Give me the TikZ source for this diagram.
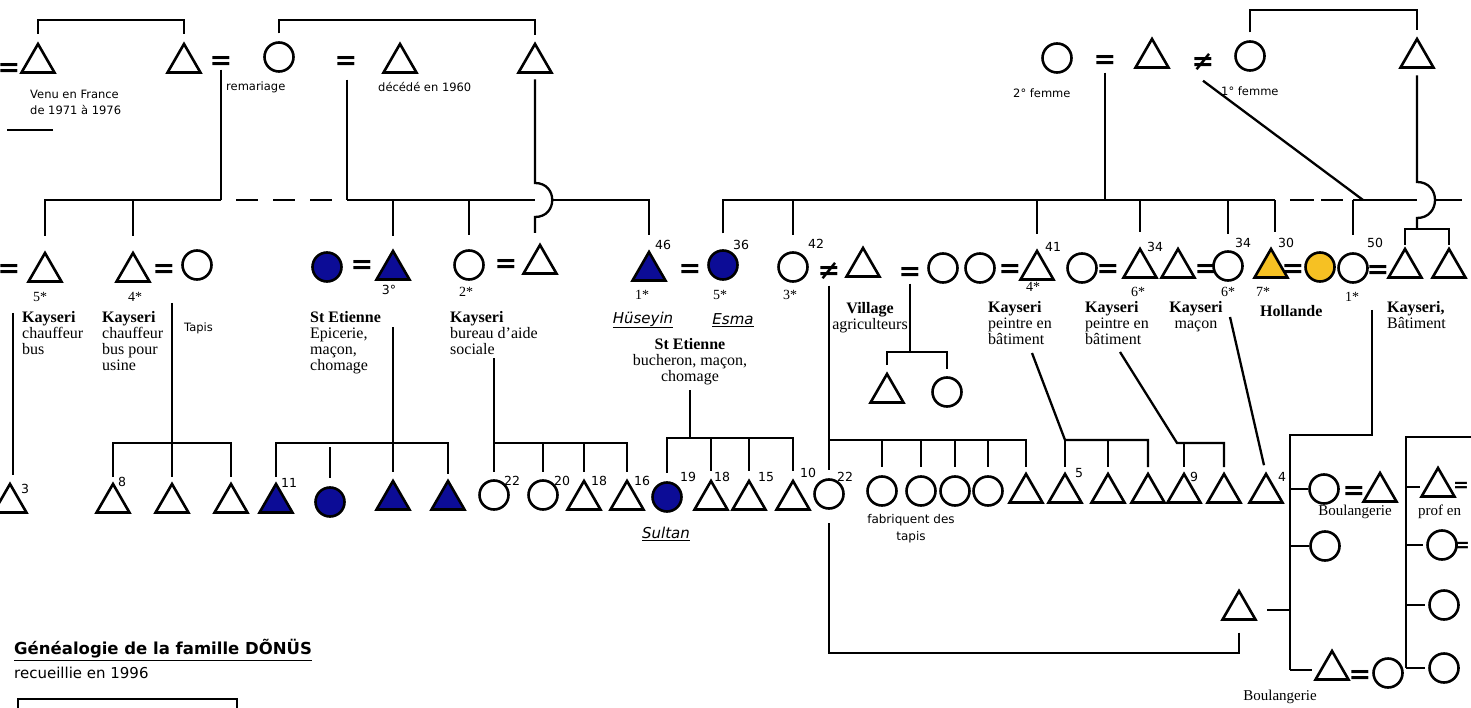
\documentclass[tikz,border=0pt]{standalone}
\usepackage{fontspec}
\setmainfont{Liberation Serif}
\setsansfont{DejaVu Sans}
\usetikzlibrary{shapes.geometric}
\definecolor{bleuD}{RGB}{12,12,150}
\definecolor{jauneD}{RGB}{246,193,35}
\begin{document}
\begin{tikzpicture}[x=1pt, y=-1pt,
  lien/.style={line width=2.3pt},
  paren/.style={lien, shorten <=#1, shorten >=#1}, paren/.default=7pt,
  desc/.style={lien, shorten >=#1}, desc/.default=9pt,
  homme/.style={draw, line width=2.6pt, regular polygon, regular polygon sides=3,
    minimum size=38pt, inner sep=0pt, outer sep=0pt},
  femme/.style={draw, line width=2.6pt, circle, minimum size=29pt, inner sep=0pt, outer sep=0pt},
  bleu/.style={fill=bleuD},
  jaune/.style={fill=jauneD},
  egal/.style={font=\sffamily\bfseries\fontsize{27}{27}\selectfont, inner sep=0pt, anchor=base, yshift=-9.4pt},
  petitegal/.style={egal, font=\sffamily\bfseries\fontsize{19}{19}\selectfont, yshift=3pt},
  petit/.style={font=\sffamily\fontsize{11.5}{16}\selectfont, inner sep=0pt, align=left},
  lieu/.style={font=\fontsize{16}{16}\selectfont, inner sep=0pt, align=left},
  rang/.style={font=\fontsize{14}{14}\selectfont, inner sep=0pt},
  age/.style={font=\sffamily\fontsize{12.5}{13}\selectfont, inner sep=0pt},
  prenom/.style={font=\sffamily\itshape\fontsize{15}{15}\selectfont, inner sep=0pt}]
  \useasboundingbox (0,0) rectangle (1471,708);
  \clip (0,0) rectangle (1471,708);

  % la generation du haut
  \node[egal] (m0) at (9,67) {=};
  \node[homme] (gp1) at (38,63) {};
  \node[homme] (gp2) at (184,63) {};
  \node[egal] (m1) at (221,60) {=};
  \node[femme] (gm1) at (279,57) {};
  \node[egal] (m2) at (346,60) {=};
  \node[homme] (gp3) at (400,63) {};
  \node[homme] (gp4) at (535,63) {};
  \node[femme] (gm2) at (1057,58) {};
  \node[egal] (m3) at (1105,59) {=};
  \node[homme] (gp5) at (1152,58) {};
  \node[egal] (d1) at (1203,61) {≠};
  \node[femme] (gm3) at (1250,56) {};
  \node[homme] (gp6) at (1417,58) {};
  \node[petit, anchor=north west] (venu) at (30,90) {Venu en France\\de 1971 à 1976};
  \node[petit, anchor=west] (remar) at (226,87) {remariage};
  \node[petit, anchor=west] (deced) at (378,87) {décédé en 1960};
  \node[petit, anchor=west] (fem2) at (1013,93) {2° femme};
  \node[petit, anchor=west] (fem1) at (1221,91) {1° femme};
  \coordinate (nivA) at (0,20);
  \coordinate (nivB) at (0,10);
  \draw[paren=10pt] (gp1.north) -- (gp1.north |- nivA) -| (gp2.north);
  \draw[paren=9pt] (gm1.north) -- (gm1.north |- nivA) -| (gp4.north);
  \draw[paren=9pt] (gm3.north) -- (gm3.north |- nivB) -| (gp6.north);
  \coordinate (s1) at (53,130);
  \draw[lien] (s1) -- ++(-46,0);

  % les enfants
  \node[egal] (m4) at (9,268) {=};
  \node[homme] (f5) at (45,272) {};
  \node[homme] (f4) at (133,272) {};
  \node[egal] (m5) at (164,268) {=};
  \node[femme] (f4e) at (197,265) {};
  \node[femme, bleu] (bf) at (327,267) {};
  \node[egal] (m6) at (362,264) {=};
  \node[homme, bleu] (bt3) at (393,270) {};
  \node[femme] (f2) at (469,265) {};
  \node[egal] (m7) at (506,263) {=};
  \node[homme] (f2e) at (540,264) {};
  \node[homme, bleu] (h1) at (649,271) {};
  \node[egal] (m8) at (690,268) {=};
  \node[femme, bleu] (esma) at (723,265) {};
  \node[femme] (c42) at (793,267) {};
  \node[egal] (d2) at (829,270) {≠};
  \node[homme] (tv2) at (863,267) {};
  \node[egal] (m9) at (910,271) {=};
  \node[femme] (c943) at (943,268) {};
  \node[femme] (c980) at (980,268) {};
  \node[egal] (m10) at (1010,268) {=};
  \node[homme] (t41) at (1037,270) {};
  \node[femme] (c1082) at (1082,268) {};
  \node[egal] (m11) at (1108,268) {=};
  \node[homme] (t34) at (1140,268) {};
  \node[homme] (t1178) at (1178,268) {};
  \node[egal] (m12) at (1206,268) {=};
  \node[femme] (c34) at (1228,266) {};
  \node[homme, jaune] (yt) at (1271,268) {};
  \node[egal] (m13) at (1293,268) {=};
  \node[femme, jaune] (yc) at (1320,267) {};
  \node[femme] (c50) at (1353,268) {};
  \node[egal] (m14) at (1378,269) {=};
  \node[homme] (tr1) at (1405,268) {};
  \node[homme] (tr2) at (1449,268) {};
  \node[homme] (kv1) at (887,393) {};
  \node[femme] (kv2) at (947,392) {};

  % rangs et ages
  \node[rang] at (40,297) {5*};
  \node[rang] at (135,297) {4*};
  \node[age] at (389,290) {3°};
  \node[rang] at (466,292) {2*};
  \node[rang] at (642,295) {1*};
  \node[rang] at (720,295) {5*};
  \node[rang] at (790,295) {3*};
  \node[rang] at (1033,287) {4*};
  \node[rang] at (1138,292) {6*};
  \node[rang] at (1228,292) {6*};
  \node[rang] at (1263,292) {7*};
  \node[rang] at (1352,297) {1*};
  \node[age] at (663,245) {46};
  \node[age] at (741,245) {36};
  \node[age] at (816,244) {42};
  \node[age] at (1053,247) {41};
  \node[age] at (1155,247) {34};
  \node[age] at (1243,243) {34};
  \node[age] at (1286,243) {30};
  \node[age] at (1375,243) {50};

  % lieux et metiers
  \node[lieu, anchor=north west] (l1) at (22,311) {\textbf{Kayseri}\\chauffeur\\bus};
  \node[lieu, anchor=north west] (l2) at (102,311) {\textbf{Kayseri}\\chauffeur\\bus pour\\usine};
  \node[petit, anchor=west] (tapis) at (184,328) {Tapis};
  \node[lieu, anchor=north west] (l3) at (310,311) {\textbf{St Etienne}\\Epicerie,\\maçon,\\chomage};
  \node[lieu, anchor=north west] (l4) at (450,311) {\textbf{Kayseri}\\bureau d'aide\\sociale};
  \node[prenom] (hus) at (643,320) {\underline{Hüseyin}};
  \node[prenom] (esn) at (733,320) {\underline{Esma}};
  \node[lieu, anchor=north, align=center] (l5) at (690,338) {\textbf{St Etienne}\\bucheron, maçon,\\chomage};
  \node[lieu, anchor=north, align=center] (l6) at (870,302) {\textbf{Village}\\agriculteurs};
  \node[lieu, anchor=north west] (l7) at (988,301) {\textbf{Kayseri}\\peintre en\\bâtiment};
  \node[lieu, anchor=north west] (l8) at (1085,301) {\textbf{Kayseri}\\peintre en\\bâtiment};
  \node[lieu, anchor=north, align=center] (l9) at (1196,301) {\textbf{Kayseri}\\maçon};
  \node[lieu, anchor=north west] (l10) at (1260,305) {\textbf{Hollande}};
  \node[lieu, anchor=north west] (l11) at (1387,301) {\textbf{Kayseri,}\\Bâtiment};

  % les petits-enfants
  \node[homme] (p3) at (10,503) {};
  \node[homme] (p8) at (113,503) {};
  \node[homme] (pA) at (172,503) {};
  \node[homme] (pB) at (231,503) {};
  \node[homme, bleu] (p11) at (276,503) {};
  \node[femme, bleu] (pC) at (330,502) {};
  \node[homme, bleu] (pD) at (393,500) {};
  \node[homme, bleu] (pE) at (448,500) {};
  \node[femme] (p22a) at (494,495) {};
  \node[femme] (p20) at (543,495) {};
  \node[homme] (p18a) at (584,500) {};
  \node[homme] (p16) at (627,500) {};
  \node[femme, bleu] (sultan) at (667,497) {};
  \node[homme] (p18b) at (711,500) {};
  \node[homme] (p15) at (749,500) {};
  \node[homme] (p10) at (793,500) {};
  \node[femme] (p22b) at (829,494) {};
  \node[femme] (pF) at (882,491) {};
  \node[femme] (pG) at (921,491) {};
  \node[femme] (pH) at (955,491) {};
  \node[femme] (pI) at (988,491) {};
  \node[homme] (pJ) at (1026,493) {};
  \node[homme] (p5) at (1065,493) {};
  \node[homme] (pK) at (1108,493) {};
  \node[homme] (pL) at (1148,493) {};
  \node[homme] (p9) at (1184,493) {};
  \node[homme] (pM) at (1224,493) {};
  \node[homme] (p4) at (1266,493) {};
  \node[age] at (25,489) {3};
  \node[age] at (122,482) {8};
  \node[age] at (289,483) {11};
  \node[age] at (512,481) {22};
  \node[age] at (562,481) {20};
  \node[age] at (599,481) {18};
  \node[age] at (642,481) {16};
  \node[age] at (688,477) {19};
  \node[age] at (722,477) {18};
  \node[age] at (766,477) {15};
  \node[age] at (808,473) {10};
  \node[age] at (845,477) {22};
  \node[age] at (1079,473) {5};
  \node[age] at (1194,477) {9};
  \node[age] at (1282,477) {4};
  \node[prenom] (sul) at (666,534) {\underline{Sultan}};
  \node[petit, anchor=north, align=center, font=\sffamily\fontsize{12}{17}\selectfont] (fab) at (911,514) {fabriquent des\\tapis};

  % la famille de Boulangerie
  \node[femme] (cb1) at (1324,489) {};
  \node[egal] (mB1) at (1354,490) {=};
  \node[homme] (tb1) at (1380,492) {};
  \node[lieu, font=\fontsize{15}{15}\selectfont] (boul1) at (1355,512) {Boulangerie};
  \node[femme] (cb2) at (1325,546) {};
  \node[homme] (tg2) at (1239,610) {};
  \node[homme] (tbo) at (1332,670) {};
  \node[egal] (mB2) at (1360,674) {=};
  \node[femme] (cbo) at (1388,673) {};
  \node[lieu, font=\fontsize{15}{15}\selectfont] (boul2) at (1280,697) {Boulangerie};
  \node[homme] (tr3) at (1438,487) {};
  \node[petitegal] (mR1) at (1461,485) {=};
  \node[lieu, anchor=west, font=\fontsize{15}{15}\selectfont] (prof) at (1418,512) {prof en};
  \node[femme] (cr2) at (1442,545) {};
  \node[petitegal] (mR2) at (1462,545) {=};
  \node[femme] (cr3) at (1444,605) {};
  \node[femme] (cr4) at (1444,668) {};

  % les lignes de la fratrie de gauche
  \coordinate (jA) at (221,200);
  \coordinate (jB) at (347,200);
  \coordinate (hopG) at (535,200);
  \draw[lien] (m1.south) -- (jA);
  \draw[lien] ([yshift=-10pt]m2.south -| jB) -- (jB);
  \draw[lien, dash pattern=on 22pt off 15pt, shorten <=15pt, shorten >=14pt] (jA) -- (jB);
  \draw[desc=17pt] (jA) -| (f5.north);
  \draw[desc=17pt] (jA -| f4) -- (f4.north);
  \draw[lien] (jB) -- (hopG);
  \draw[desc=15pt] (jB -| bt3) -- (bt3.north);
  \draw[desc=15pt] (jB -| f2) -- (f2.north);
  \draw[desc=17pt] (hopG) ++(17,0) -| (h1.north);
  \draw[lien] ([yshift=-7pt]gp4.side 2) -- ([yshift=17pt]hopG)
    .. controls +(23,0) and +(23,0) .. ([yshift=-17pt]hopG) -- ([yshift=-33pt]hopG);

  % les lignes de la fratrie de droite
  \coordinate (jD) at (1105,200);
  \coordinate (jC) at (1275,200);
  \coordinate (jG) at (1353,200);
  \coordinate (jH) at (1363,200);
  \coordinate (hopD) at (1417,200);
  \coordinate (finD) at (1462,200);
  \coordinate (bR) at (1417,229);
  \draw[lien] ([yshift=-4pt]m3.south) -- (jD);
  \draw[lien, shorten <=17pt] (esma.north) |- (jC);
  \foreach \n in {c42, t41, t34, c34}
    \draw[desc=17pt] (jD -| \n) -- (\n.north);
  \draw[desc=17pt] (jC) -- (jC |- yt.north);
  \draw[lien, dash pattern=on 24pt off 7pt, shorten <=15pt, shorten >=10pt] (jC) -- (jG);
  \draw[desc=18pt] (jG) -- (c50.north);
  \draw[lien] (jG) -- (hopD);
  \draw[lien] (hopD) ++(17,0) -- (finD);
  \draw[lien] ([yshift=-10pt]d1.south) -- (jH);
  \draw[lien] ([yshift=-8pt]gp6.side 2) -- ([yshift=18pt]hopD)
    .. controls +(24,0) and +(24,0) .. ([yshift=-18pt]hopD) -- (bR);
  \draw[paren=4pt] (tr1.north) |- (bR) -| (tr2.north);

  % vers les petits-enfants
  \coordinate (dA) at (13,313);
  \draw[desc] (dA) -- (dA |- p3.north);
  \coordinate (dB) at (172,303);
  \coordinate (bB) at (172,443);
  \draw[lien] (dB) -- (bB);
  \draw[paren] (p8.north) |- (bB) -| (pB.north);
  \draw[desc=7pt] (bB) -- (pA.north);
  \coordinate (dC) at (393,327);
  \coordinate (bC) at (393,443);
  \draw[lien] (dC) -- (bC);
  \draw[paren] (p11.north) |- (bC) -| (pE.north);
  \draw[desc] (bC) -- (pD.north);
  \draw[lien, shorten <=4pt, shorten >=10pt] (bC -| pC) -- (pC.north);
  \coordinate (dD) at (494,358);
  \coordinate (bD) at (494,443);
  \draw[desc] (dD) -- (p22a.north);
  \draw[desc] (bD) -| (p16.north);
  \draw[desc] (bD -| p20) -- (p20.north);
  \draw[desc] (bD -| p18a) -- (p18a.north);
  \coordinate (dE) at (690,390);
  \coordinate (bE) at (690,438);
  \draw[lien] (dE) -- (bE);
  \draw[paren=10pt] (sultan.north) |- (bE) -| (p10.north);
  \draw[desc=10pt] (bE -| p18b) -- (p18b.north);
  \draw[desc=10pt] (bE -| p15) -- (p15.north);
  \coordinate (bF) at (829,440);
  \draw[desc=10pt] ([yshift=-6pt]d2.south) -- (p22b.north);
  \draw[desc=7pt] (bF) -| (pJ.north);
  \foreach \n in {pF, pG, pH, pI}
    \draw[desc=10pt] (bF -| \n) -- (\n.north);
  \coordinate (bG) at (910,352);
  \draw[lien] ([yshift=-3pt]m9.south) -- (bG);
  \draw[paren=9pt] (kv1.north) |- (bG) -| (kv2.north);
  \coordinate (dH) at (1032,353);
  \coordinate (bH) at (1065,440);
  \draw[desc=7pt] (dH) -- (bH) -| (pL.north);
  \draw[desc=7pt] (bH) -- (p5.north);
  \draw[desc=7pt] (bH -| pK) -- (pK.north);
  \coordinate (dI) at (1120,352);
  \coordinate (bI) at (1177,443);
  \draw[desc=7pt] (dI) -- (bI) -| (pM.north);
  \draw[desc=7pt] (bI -| p9) -- (p9.north);
  \coordinate (dJ) at (1230,317);
  \draw[desc] (dJ) -- (p4.north);

  % le bloc de droite
  \coordinate (dK) at (1372,310);
  \coordinate (bK) at (1290,435);
  \coordinate (bL) at (1290,670);
  \coordinate (bM) at (829,653);
  \draw[lien] (dK) |- (bK) -- (bL);
  \draw[desc=20pt] (bL) -- (tbo.center);
  \draw[desc=16pt] (bK |- cb1) -- (cb1.center);
  \draw[desc=16pt] (bK |- cb2) -- (cb2.center);
  \draw[lien, shorten <=28pt] (tg2.center) -- (tg2 -| bK);
  \draw[lien] ([yshift=-13pt]tg2.side 2) |- (bM) -- ([yshift=-14pt]p22b.south);
  \coordinate (bN) at (1406,437);
  \coordinate (bNe) at (1471,437);
  \coordinate (bO) at (1406,668);
  \draw[lien] (bNe) -| (bO);
  \draw[desc=19pt] (bO) -- (cr4.center);
  \draw[desc=18pt] (bN |- tr3) -- (tr3.center);
  \draw[desc=19pt] (bN |- cr2) -- (cr2.center);
  \draw[desc=19pt] (bN |- cr3) -- (cr3.center);

  % le titre
  \node[anchor=west, inner sep=0pt, font=\sffamily\bfseries\fontsize{16.5}{16.5}\selectfont] (titre) at (14,650) {\underline{Généalogie de la famille DÕNÜS}};
  \node[anchor=west, inner sep=0pt, font=\sffamily\fontsize{15}{15}\selectfont] (recu) at (14,673) {recueillie en 1996};
  \node[draw, line width=2.3pt, minimum width=219pt, minimum height=60pt, anchor=north west] (cadre) at (17,698) {};
\end{tikzpicture}
\end{document}
